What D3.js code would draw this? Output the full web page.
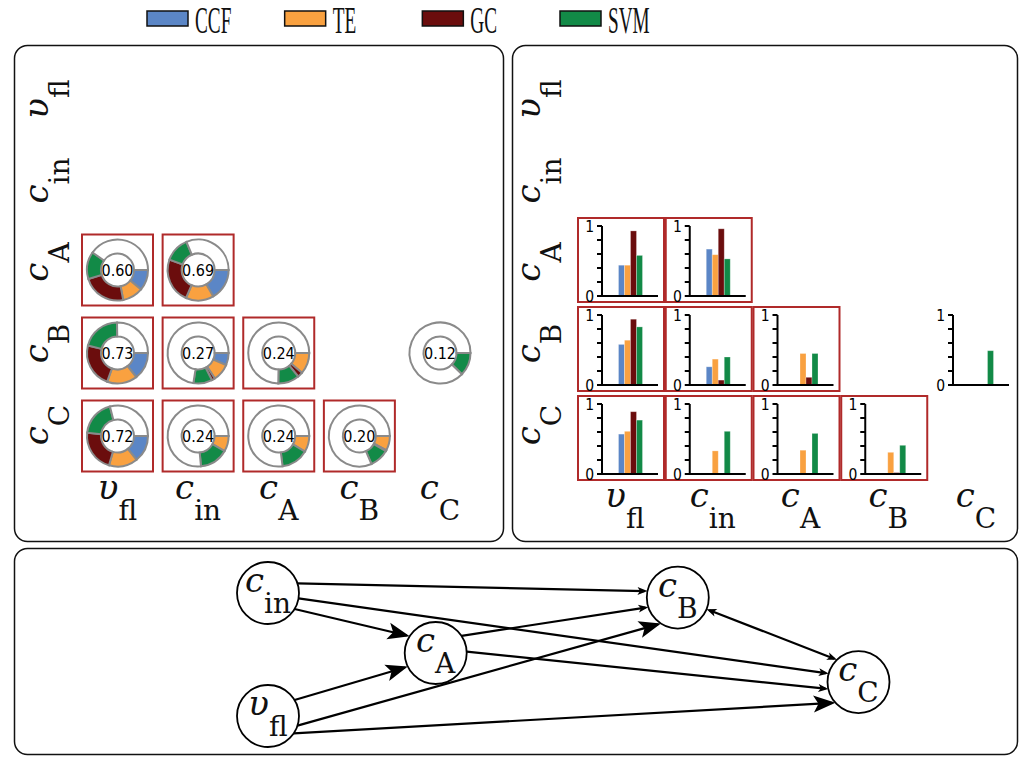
<!DOCTYPE html>
<html><head><meta charset="utf-8">
<script src="https://cdn.jsdelivr.net/npm/d3@7"></script>
<style>body{margin:0;background:#fff} svg{display:block}</style>
</head><body><svg id="c" width="1024" height="759"></svg>
<script>
// ---------------- data ----------------
const variables = ['v_fl','c_in','c_A','c_B','c_C'];
const varSymbol = ['υ','c','c','c','c'];
const varSub = ['fl','in','A','B','C'];
const methods = ['CCF','TE','GC','SVM'];
const methodColors = ['#5b86c6','#f9a140','#6b0d0d','#128a47'];

const pairEffect = ['c_A','c_A','c_B','c_B','c_B','c_B','c_C','c_C','c_C','c_C'];
const pairCause  = ['v_fl','c_in','v_fl','c_in','c_A','c_C','v_fl','c_in','c_A','c_B'];
const ccfValues = [0.44,0.67,0.58,0.26,0.00,0.00,0.57,0.00,0.00,0.00];
const teValues  = [0.44,0.59,0.64,0.37,0.45,0.00,0.61,0.33,0.34,0.31];
const gcValues  = [0.93,0.96,0.94,0.07,0.11,0.00,0.89,0.00,0.00,0.02];
const svmValues = [0.58,0.53,0.83,0.40,0.45,0.49,0.77,0.61,0.58,0.41];
const scoreLabels = ['0.60','0.69','0.73','0.27','0.24','0.12','0.72','0.24','0.24','0.20'];
const significant = [true,true,true,true,true,false,true,true,true,true];

const barTicks = [0,0.2,0.4,0.6,0.8,1];
const barTickLabels = [0,1];

const edgeSource = ['c_in','c_in','c_in','v_fl','v_fl','v_fl','c_A','c_A','c_B'];
const edgeTarget = ['c_B','c_C','c_A','c_A','c_B','c_C','c_B','c_C','c_C'];
const edgeHead   = ['small','small','big','big','big','big','small','small','both'];

// ---------------- layout (graph drawing) ----------------
const nodeLayout = {c_in:[0,0], v_fl:[0,1], c_A:[0.284,0.488], c_B:[0.694,0.037], c_C:[1,0.724]};
const edgePorts = [[-18,192],[10,196],[31,213],[-31,154],[18,123],[34,138],[-33.5,162],[-2.5,167],[22,226]];

const svg = d3.select('#c');
const serif = "'DejaVu Serif', serif";
const sans = "'DejaVu Sans Condensed','DejaVu Sans', sans-serif";
const boxRed = '#b02a2a';

// panels
const panels = [[14.5,45.5,489,496],[512.5,45.5,505,496],[14.5,548.5,1003,206]];
svg.selectAll('rect.panel').data(panels).join('rect').attr('class','panel')
  .attr('x',d=>d[0]).attr('y',d=>d[1]).attr('width',d=>d[2]).attr('height',d=>d[3])
  .attr('rx',13).attr('fill','none').attr('stroke','#111').attr('stroke-width',1.5);

// legend
const legX = d3.scaleLinear().domain([0,3]).range([147,560]);
const leg = svg.append('g');
methods.forEach((m,i)=>{
  leg.append('rect').attr('x',legX(i)).attr('y',11).attr('width',41).attr('height',15)
    .attr('fill',methodColors[i]).attr('stroke','#111').attr('stroke-width',1.5);
  const t = leg.append('text').attr('x',legX(i)+48).attr('y',32.5)
    .attr('font-family',"'Liberation Serif', serif").attr('font-size',37).attr('fill','#111').text(m);
  const w = t.node().getComputedTextLength();
  t.attr('textLength',w*0.52).attr('lengthAdjust','spacingAndGlyphs');
});

function varLabel(g, v, x, y, rot, s){
  s = s || 1;
  const i = variables.indexOf(v);
  const t = g.append('text').attr('text-anchor','middle').attr('fill','#111')
    .attr('transform',`translate(${x},${y})${rot?' rotate(-90)':''}`);
  t.append('tspan').attr('font-family',serif).attr('font-style','italic').attr('font-size',34*s).text(varSymbol[i]);
  t.append('tspan').attr('font-family',serif).attr('font-size',28*s).attr('dy',21*s).text(varSub[i]);
}

// scales
const colL = d3.scalePoint().domain(variables).range([117.5,440]);
const rowL = d3.scalePoint().domain(variables).range([104,436]);
const colR = d3.scalePoint().domain(variables).range([621,972]);
const rowR = d3.scalePoint().domain(variables).range([82,438]);
const labelRow = d3.scalePoint().domain(variables).range([99,425]);

const gL = svg.append('g'), gR = svg.append('g');
variables.forEach(v=>{
  varLabel(gL, v, 48, labelRow(v), true);
  varLabel(gL, v, colL(v), 499, false);
  varLabel(gR, v, 540, labelRow(v), true);
  varLabel(gR, v, colR(v)+4, 507, false);
});

// donuts
const pie = d3.pie().sort(null).startAngle(Math.PI/2).endAngle(Math.PI/2+2*Math.PI).value(d=>d.v);
const arc = d3.arc().innerRadius(16.5).outerRadius(30.5);
pairEffect.forEach((eff,i)=>{
  const cx = colL(pairCause[i]), cy = rowL(eff);
  const g = gL.append('g').attr('transform',`translate(${cx},${cy})`);
  if(significant[i]) g.append('rect').attr('x',-35.5).attr('y',-35.5).attr('width',71).attr('height',71)
      .attr('fill','none').attr('stroke',boxRed).attr('stroke-width',2);
  const vals = [ccfValues[i],teValues[i],gcValues[i],svmValues[i]];
  const parts = vals.map((v,k)=>({v:v/4,c:methodColors[k]}));
  parts.push({v:Math.max(0,1-d3.sum(vals)/4),c:'#fff'});
  g.selectAll('path').data(pie(parts.filter(p=>p.v>0))).join('path').attr('d',arc)
    .attr('fill',d=>d.data.c).attr('stroke','#8a8a8a').attr('stroke-width',2);
  g.append('text').attr('text-anchor','middle').attr('dy','0.37em').attr('font-family',sans)
    .attr('font-stretch','condensed').attr('font-size',16).attr('fill','#000').text(scoreLabels[i]);
});

// bar charts
pairEffect.forEach((eff,i)=>{
  const cx = colR(pairCause[i]), cy = rowR(eff);
  const g = gR.append('g');
  if(significant[i]) g.append('rect').attr('x',cx-43).attr('y',cy-42).attr('width',86).attr('height',84)
      .attr('fill','none').attr('stroke',boxRed).attr('stroke-width',2);
  const ax = cx-19;
  const y = d3.scaleLinear().domain([0,1]).range([cy+36,cy-34]);
  const xb = d3.scaleBand().domain(methods).range([ax+16.5,ax+40.5]);
  const vals = [ccfValues[i],teValues[i],gcValues[i],svmValues[i]];
  g.selectAll('rect.bar').data(methods).join('rect').attr('class','bar')
    .attr('x',m=>xb(m)).attr('width',xb.bandwidth())
    .attr('y',(m,k)=>y(vals[k])).attr('height',(m,k)=>y(0)-y(vals[k]))
    .attr('fill',(m,k)=>methodColors[k]).attr('stroke','#fff').attr('stroke-opacity',0.35).attr('stroke-width',0.8);
  g.append('line').attr('x1',ax).attr('x2',ax).attr('y1',y(0)).attr('y2',y(1)).attr('stroke','#000').attr('stroke-width',2);
  g.append('line').attr('x1',ax-1).attr('x2',ax+56).attr('y1',y(0)).attr('y2',y(0)).attr('stroke','#000').attr('stroke-width',2);
  g.selectAll('line.tk').data(barTicks).join('line').attr('class','tk')
    .attr('x1',ax-5).attr('x2',ax).attr('y1',t=>y(t)).attr('y2',t=>y(t)).attr('stroke','#000').attr('stroke-width',2);
  g.selectAll('text.tl').data(barTickLabels).join('text').attr('class','tl')
    .attr('x',ax-8).attr('y',t=>y(t)).attr('dy','0.36em').attr('text-anchor','end')
    .attr('font-family',sans).attr('font-size',15.5).attr('fill','#000').text(t=>t);
});

// causal graph
const gx = d3.scaleLinear().domain([0,1]).range([268,858.5]);
const gy = d3.scaleLinear().domain([0,1]).range([593,716]);
const R = 31;
const defs = svg.append('defs');
function mk(id, L, W, notch){
  defs.append('marker').attr('id',id).attr('markerUnits','userSpaceOnUse')
    .attr('viewBox',`${-L-2} ${-W-2} ${L+8} ${2*W+4}`).attr('markerWidth',L+8).attr('markerHeight',2*W+4)
    .attr('refX',0).attr('refY',0).attr('orient','auto-start-reverse')
    .append('path').attr('d',`M3,0 L${-L+3},${-W} L${-L+3+notch},0 L${-L+3},${W} Z`).attr('fill','#000');
}
mk('big',22,8.5,5);
mk('small',10,4,2.5);
const gG = svg.append('g');
edgeSource.forEach((s,i)=>{
  const a = edgePorts[i][0]*Math.PI/180, b = edgePorts[i][1]*Math.PI/180;
  const sx = gx(nodeLayout[s][0]), sy = gy(nodeLayout[s][1]);
  const t = edgeTarget[i];
  const tx = gx(nodeLayout[t][0]), ty = gy(nodeLayout[t][1]);
  let x1 = sx+R*Math.cos(a), y1 = sy+R*Math.sin(a);
  let x2 = tx+R*Math.cos(b), y2 = ty+R*Math.sin(b);
  const dx = x2-x1, dy = y2-y1, len = Math.hypot(dx,dy), ux = dx/len, uy = dy/len;
  x2 -= 3*ux; y2 -= 3*uy;
  const ln = gG.append('line').attr('stroke','#000').attr('stroke-width',2.2);
  if(edgeHead[i]==='both'){ x1 += 3*ux; y1 += 3*uy; ln.attr('marker-start','url(#small)').attr('marker-end','url(#small)'); }
  else ln.attr('marker-end',`url(#${edgeHead[i]})`);
  ln.attr('x1',x1).attr('y1',y1).attr('x2',x2).attr('y2',y2);
});
variables.forEach(v=>{
  const x = gx(nodeLayout[v][0]), y = gy(nodeLayout[v][1]);
  gG.append('circle').attr('cx',x).attr('cy',y).attr('r',R).attr('fill','#fff').attr('stroke','#000').attr('stroke-width',1.8);
  varLabel(gG, v, x, y-1, false);
});
</script></body></html>
